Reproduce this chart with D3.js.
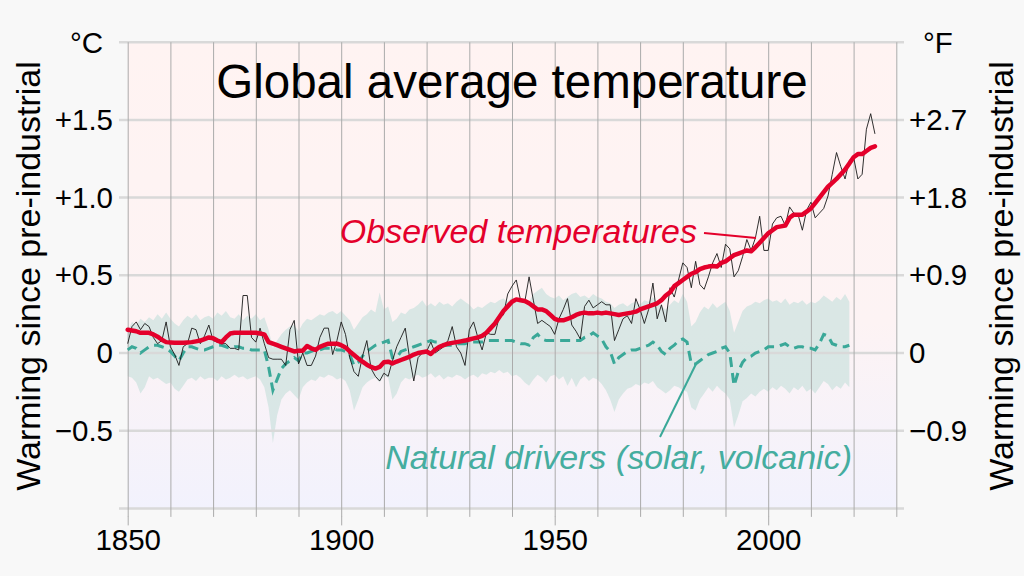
<!DOCTYPE html>
<html>
<head>
<meta charset="utf-8">
<script src="https://cdn.jsdelivr.net/npm/d3@7"></script>
<style>
  body { margin: 0; background: #f8f8f8; }
  svg { display: block; font-family: "Liberation Sans", Arial, sans-serif; }
</style>
</head>
<body>
<div id="chart"></div>
<script>
// annual observed warming (°C vs 1850-1900), 1850..2025
const observed = [
  0.06, 0.17, 0.20, 0.15, 0.19, 0.17, 0.10, 0.06, 0.08, 0.20,
  0.04, -0.01, -0.08, 0.04, 0.06, 0.16, 0.15, 0.06, 0.11, 0.18,
  0.08, 0.07, 0.06, 0.06, 0.03, 0.03, 0.02, 0.37, 0.37, 0.10,
  0.07, 0.16, 0.06, -0.03, -0.04, -0.04, -0.04, -0.08, 0.15, 0.21,
  -0.07, 0.00, -0.08, -0.08, -0.02, 0.10, 0.16, 0.16, -0.01, 0.08,
  0.20, 0.12, -0.03, -0.12, -0.15, -0.02, 0.08, -0.10, -0.15, -0.18,
  -0.13, -0.15, -0.05, 0.04, 0.10, 0.16, -0.03, -0.18, -0.03, 0.00,
  0.01, 0.07, 0.00, 0.02, 0.04, 0.08, 0.17, 0.04, 0.00, -0.08,
  0.15, 0.20, 0.10, 0.02, 0.13, 0.12, 0.12, 0.23, 0.245, 0.38,
  0.43, 0.47, 0.34, 0.33, 0.49, 0.34, 0.19, 0.21, 0.19, 0.17,
  0.12, 0.22, 0.28, 0.35, 0.18, 0.14, 0.09, 0.30, 0.34, 0.29,
  0.31, 0.33, 0.31, 0.31, 0.08, 0.15, 0.22, 0.24, 0.19, 0.35,
  0.28, 0.19, 0.28, 0.45, 0.22, 0.31, 0.20, 0.42, 0.36, 0.47,
  0.58, 0.55, 0.42, 0.59, 0.44, 0.41, 0.49, 0.58, 0.64, 0.55,
  0.70, 0.67, 0.49, 0.53, 0.62, 0.73, 0.66, 0.74, 0.88, 0.66,
  0.66, 0.83, 0.87, 0.88, 0.82, 0.94, 0.90, 0.89, 0.79, 0.92,
  0.97, 0.87, 0.90, 0.93, 1.01, 1.15, 1.29, 1.20, 1.12, 1.24,
  1.26, 1.12, 1.15, 1.44, 1.54, 1.41
];

// smoothed observed trend, 1850..2025
const smoothed = [
  0.15, 0.145, 0.14, 0.13, 0.13, 0.13, 0.12, 0.105, 0.085, 0.07,
  0.068, 0.066, 0.066, 0.066, 0.068, 0.07, 0.075, 0.08, 0.09, 0.10,
  0.095, 0.08, 0.07, 0.10, 0.125, 0.13, 0.13, 0.13, 0.13, 0.13,
  0.13, 0.125, 0.12, 0.07, 0.06, 0.05, 0.04, 0.03, 0.02, 0.01,
  0.015, 0.015, 0.045, 0.03, 0.02, 0.04, 0.05, 0.06, 0.06, 0.06,
  0.05, 0.036, 0.01, -0.013, -0.035, -0.056, -0.075, -0.09, -0.10, -0.09,
  -0.06, -0.056, -0.067, -0.055, -0.045, -0.035, -0.024, -0.01, 0.0, 0.005,
  0.01, -0.006, 0.02, 0.04, 0.05, 0.06, 0.065, 0.07, 0.075, 0.08,
  0.087, 0.094, 0.10, 0.11, 0.13, 0.16, 0.19, 0.23, 0.27, 0.30,
  0.33, 0.345, 0.34, 0.335, 0.32, 0.30, 0.28, 0.28, 0.27, 0.245,
  0.22, 0.21, 0.21, 0.22, 0.23, 0.245, 0.255, 0.26, 0.255, 0.255,
  0.26, 0.255, 0.26, 0.255, 0.25, 0.245, 0.25, 0.255, 0.26, 0.266,
  0.28, 0.29, 0.30, 0.31, 0.32, 0.34, 0.37, 0.39, 0.43, 0.45,
  0.47, 0.49, 0.51, 0.52, 0.54, 0.55, 0.556, 0.56, 0.556, 0.58,
  0.59, 0.61, 0.63, 0.64, 0.65, 0.66, 0.655, 0.68, 0.71, 0.74,
  0.77, 0.79, 0.81, 0.815, 0.82, 0.87, 0.89, 0.89, 0.89, 0.91,
  0.93, 0.965, 1.00, 1.035, 1.07, 1.095, 1.12, 1.15, 1.18, 1.22,
  1.26, 1.28, 1.28, 1.30, 1.32, 1.33
];

// simulated natural-only response, 1850..2019
const natural = [
  0.02, 0.04, 0.03, 0.00, 0.02, 0.04, 0.05, 0.05, 0.04, 0.03,
  0.01, -0.02, -0.05, 0.00, 0.04, 0.04, 0.03, 0.02, 0.02, 0.03,
  0.04, 0.05, 0.05, 0.04, 0.03, 0.04, 0.04, 0.03, 0.03, 0.02,
  0.02, 0.02, 0.02, -0.09, -0.24, -0.17, -0.10, -0.07, -0.05, -0.03,
  -0.05, 0.00, 0.00, 0.01, 0.02, 0.02, 0.03, 0.03, 0.03, 0.02,
  0.02, 0.01, -0.01, -0.08, -0.06, -0.02, 0.01, 0.03, 0.05, 0.06,
  0.07, 0.08, -0.03, -0.03, 0.01, 0.02, 0.03, 0.04, 0.05, 0.06,
  0.07, 0.08, 0.07, 0.07, 0.05, 0.05, 0.05, 0.06, 0.06, 0.06,
  0.07, 0.07, 0.07, 0.07, 0.08, 0.08, 0.08, 0.08, 0.08, 0.08,
  0.08, 0.07, 0.06, 0.06, 0.05, 0.10, 0.12, 0.09, 0.08, 0.08,
  0.08, 0.08, 0.08, 0.08, 0.08, 0.08, 0.08, 0.10, 0.11, 0.13,
  0.11, 0.09, 0.04, 0.01, -0.07, -0.03, -0.01, 0.01, 0.02, 0.02,
  0.03, 0.04, 0.05, 0.07, 0.05, 0.01, -0.01, 0.03, 0.05, 0.08,
  0.09, 0.07, -0.07, -0.07, -0.05, -0.03, -0.01, 0.00, 0.01, 0.03,
  0.04, 0.00, -0.21, -0.12, -0.06, -0.03, -0.02, 0.00, 0.01, 0.02,
  0.04, 0.04, 0.04, 0.05, 0.06, 0.04, 0.03, 0.04, 0.04, 0.03,
  0.03, 0.02, 0.06, 0.12, 0.11, 0.06, 0.05, 0.04, 0.04, 0.05
];

// natural-only range, upper and lower edge, 1850..2019
const naturalHigh = [
  0.14, 0.20, 0.18, 0.22, 0.20, 0.23, 0.21, 0.25, 0.22, 0.26,
  0.22, 0.19, 0.17, 0.21, 0.24, 0.22, 0.25, 0.21, 0.23, 0.24,
  0.22, 0.26, 0.24, 0.27, 0.23, 0.22, 0.25, 0.21, 0.24, 0.22,
  0.25, 0.21, 0.23, 0.15, 0.03, 0.08, 0.12, 0.15, 0.17, 0.18,
  0.14, 0.19, 0.22, 0.21, 0.23, 0.25, 0.24, 0.26, 0.27, 0.25,
  0.27, 0.24, 0.21, 0.15, 0.19, 0.23, 0.25, 0.28, 0.26, 0.39,
  0.28, 0.30, 0.20, 0.22, 0.26, 0.25, 0.28, 0.29, 0.31, 0.34,
  0.30, 0.32, 0.30, 0.33, 0.31, 0.32, 0.30, 0.33, 0.35, 0.33,
  0.31, 0.28, 0.30, 0.29, 0.31, 0.33, 0.32, 0.34, 0.35, 0.33,
  0.36, 0.34, 0.33, 0.35, 0.33, 0.38, 0.40, 0.42, 0.38, 0.36,
  0.35, 0.37, 0.34, 0.36, 0.38, 0.39, 0.36, 0.37, 0.35, 0.38,
  0.36, 0.35, 0.33, 0.32, 0.29, 0.31, 0.32, 0.30, 0.32, 0.33,
  0.31, 0.34, 0.33, 0.36, 0.32, 0.30, 0.28, 0.31, 0.34, 0.32,
  0.38, 0.33, 0.17, 0.20, 0.26, 0.30, 0.28, 0.32, 0.29, 0.31,
  0.33, 0.27, 0.13, 0.20, 0.27, 0.30, 0.31, 0.33, 0.32, 0.34,
  0.35, 0.33, 0.34, 0.32, 0.35, 0.31, 0.33, 0.32, 0.34, 0.31,
  0.33, 0.32, 0.34, 0.37, 0.35, 0.33, 0.36, 0.34, 0.38, 0.33
];
const naturalLow = [
  -0.15, -0.16, -0.19, -0.26, -0.22, -0.15, -0.17, -0.16, -0.18, -0.20,
  -0.19, -0.23, -0.25, -0.21, -0.17, -0.16, -0.18, -0.15, -0.17, -0.16,
  -0.16, -0.18, -0.15, -0.17, -0.16, -0.14, -0.16, -0.15, -0.17, -0.16,
  -0.15, -0.17, -0.22, -0.35, -0.58, -0.40, -0.30, -0.26, -0.24, -0.27,
  -0.30, -0.22, -0.19, -0.17, -0.18, -0.15, -0.16, -0.14, -0.15, -0.17,
  -0.16, -0.18, -0.24, -0.37, -0.30, -0.22, -0.19, -0.17, -0.16, -0.19,
  -0.15, -0.16, -0.30, -0.26, -0.19, -0.16, -0.17, -0.15, -0.14, -0.16,
  -0.15, -0.13, -0.16, -0.14, -0.17, -0.15, -0.16, -0.14, -0.15, -0.17,
  -0.15, -0.14, -0.16, -0.13, -0.14, -0.12, -0.13, -0.11, -0.13, -0.12,
  -0.15, -0.14, -0.16, -0.19, -0.21, -0.17, -0.14, -0.16, -0.19, -0.15,
  -0.14, -0.17, -0.15, -0.21, -0.16, -0.22, -0.17, -0.15, -0.18, -0.16,
  -0.17, -0.20, -0.24, -0.30, -0.38, -0.30, -0.26, -0.23, -0.22, -0.20,
  -0.21, -0.19, -0.20, -0.18, -0.22, -0.24, -0.26, -0.24, -0.21, -0.22,
  -0.24, -0.25, -0.35, -0.37, -0.30, -0.26, -0.22, -0.25, -0.21, -0.24,
  -0.26, -0.30, -0.48, -0.40, -0.31, -0.29, -0.26, -0.28, -0.25, -0.23,
  -0.25, -0.22, -0.24, -0.21, -0.23, -0.26, -0.22, -0.24, -0.21, -0.25,
  -0.23, -0.26, -0.22, -0.18, -0.20, -0.24, -0.21, -0.23, -0.19, -0.22
];

const obsYears = d3.range(1850, 1850 + observed.length);
const natYears = d3.range(1850, 1850 + natural.length);

const yearTicks = [1850, 1900, 1950, 2000];
const decadeTicks = d3.range(1850, 2031, 10);
const celsiusTicks = [-0.5, 0, 0.5, 1.0, 1.5];
const celsiusLabels = ["\u22120.5", "0", "+0.5", "+1.0", "+1.5"];
const fahrenheitLabels = ["\u22120.9", "0", "+0.9", "+1.8", "+2.7"];
const gridValues = [-1, -0.5, 0, 0.5, 1.0, 1.5, 2.0];

let w = 1024;
let h = 576;
let red = "#e4002b";
let teal = "#3aa898";
let font = '"Liberation Sans", Arial, sans-serif';
let tickFont = "29.5px";
let labelFont = "34px";

let x = d3.scaleLinear().domain([1850, 2030]).range([127.7, 896.3]);
let y = d3.scaleLinear().domain([-1, 2]).range([508.4, 42.2]);

let svg = d3
  .select("#chart")
  .append("svg")
  .attr("width", w)
  .attr("height", h);

svg.append("rect").attr("width", w).attr("height", h).attr("fill", "#f8f8f8");

let grad = svg
  .append("defs")
  .append("linearGradient")
  .attr("id", "bg")
  .attr("x1", 0)
  .attr("y1", 0)
  .attr("x2", 0)
  .attr("y2", 1);
grad.append("stop").attr("offset", "0%").attr("stop-color", "#fff3f2");
grad.append("stop").attr("offset", "60%").attr("stop-color", "#fdf3f4");
grad.append("stop").attr("offset", "100%").attr("stop-color", "#f2f2fd");

svg
  .append("rect")
  .attr("x", x(1850))
  .attr("y", y(2))
  .attr("width", x(2030) - x(1850))
  .attr("height", y(-1) - y(2))
  .attr("fill", "url(#bg)");

// natural drivers range
svg
  .append("path")
  .datum(natYears)
  .attr("fill", "#cfe3e0")
  .attr("fill-opacity", 0.78)
  .attr(
    "d",
    d3
      .area()
      .x(function (d) {
        return x(d);
      })
      .y0(function (d, i) {
        return y(naturalLow[i]);
      })
      .y1(function (d, i) {
        return y(naturalHigh[i]);
      })
  );

// horizontal grid
svg
  .append("g")
  .selectAll("line")
  .data(gridValues)
  .enter()
  .append("line")
  .attr("x1", 119)
  .attr("x2", 904)
  .attr("y1", function (d) {
    return y(d);
  })
  .attr("y2", function (d) {
    return y(d);
  })
  .attr("stroke", "#d9d9d9")
  .attr("stroke-width", 2.5);

// decade grid lines + ticks
let xAxisMinor = svg
  .append("g")
  .attr("transform", `translate(0,${y(-1) + 8.5})`)
  .call(
    d3
      .axisBottom(x)
      .tickValues(decadeTicks)
      .tickSize(-(y(-1) + 8.5 - y(2)))
      .tickFormat("")
  );
xAxisMinor.select(".domain").remove();
xAxisMinor
  .selectAll(".tick line")
  .attr("stroke", "#ababab")
  .attr("stroke-width", 1);

let xAxis = svg
  .append("g")
  .attr("transform", `translate(0,${y(-1) + 17})`)
  .call(d3.axisBottom(x).tickValues(yearTicks).tickSize(9).tickFormat(d3.format("d")));
xAxis.select(".domain").remove();
xAxis.selectAll(".tick line").attr("stroke", "#ababab").attr("y1", -9).attr("y2", 0);
xAxis
  .selectAll(".tick text")
  .attr("y", 25)
  .attr("dy", 0)
  .attr("fill", "#000")
  .style("font-size", tickFont)
  .style("font-family", font);

// left (°C) and right (°F) tick labels
svg
  .append("g")
  .selectAll("text")
  .data(celsiusTicks)
  .enter()
  .append("text")
  .attr("x", 113)
  .attr("y", function (d) {
    return y(d) + 10;
  })
  .attr("text-anchor", "end")
  .style("font-size", tickFont)
  .text(function (d, i) {
    return celsiusLabels[i];
  });

svg
  .append("g")
  .selectAll("text")
  .data(celsiusTicks)
  .enter()
  .append("text")
  .attr("x", 909)
  .attr("y", function (d) {
    return y(d) + 10;
  })
  .style("font-size", tickFont)
  .text(function (d, i) {
    return fahrenheitLabels[i];
  });

svg
  .append("text")
  .attr("x", 103)
  .attr("y", 53)
  .attr("text-anchor", "end")
  .style("font-size", tickFont)
  .text("\u00b0C");

svg
  .append("text")
  .attr("x", 923)
  .attr("y", 53)
  .style("font-size", tickFont)
  .text("\u00b0F");

svg
  .append("text")
  .attr("transform", "translate(40,276) rotate(-90)")
  .attr("text-anchor", "middle")
  .style("font-size", labelFont)
  .text("Warming since pre-industrial");

svg
  .append("text")
  .attr("transform", "translate(1013,276) rotate(-90)")
  .attr("text-anchor", "middle")
  .style("font-size", labelFont)
  .text("Warming since pre-industrial");

svg
  .append("text")
  .attr("x", 512)
  .attr("y", 98)
  .attr("text-anchor", "middle")
  .style("font-size", "47.5px")
  .text("Global average temperature");

// natural drivers line
svg
  .append("path")
  .datum(natYears)
  .attr("fill", "none")
  .attr("stroke", teal)
  .attr("stroke-width", 3)
  .attr("stroke-dasharray", "10,6")
  .attr(
    "d",
    d3
      .line()
      .x(function (d) {
        return x(d);
      })
      .y(function (d, i) {
        return y(natural[i]);
      })
  );

// annual observed
svg
  .append("path")
  .datum(obsYears)
  .attr("fill", "none")
  .attr("stroke", "#1a1a1a")
  .attr("stroke-width", 0.9)
  .attr(
    "d",
    d3
      .line()
      .x(function (d) {
        return x(d);
      })
      .y(function (d, i) {
        return y(observed[i]);
      })
  );

// smoothed observed
svg
  .append("path")
  .datum(obsYears)
  .attr("fill", "none")
  .attr("stroke", red)
  .attr("stroke-width", 4.5)
  .attr("stroke-linejoin", "round")
  .attr("stroke-linecap", "round")
  .attr(
    "d",
    d3
      .line()
      .x(function (d) {
        return x(d);
      })
      .y(function (d, i) {
        return y(smoothed[i]);
      })
  );

// labels with leader lines
svg
  .append("text")
  .attr("x", 697)
  .attr("y", 243)
  .attr("text-anchor", "end")
  .attr("fill", red)
  .style("font-size", labelFont)
  .style("font-style", "italic")
  .text("Observed temperatures");

svg
  .append("line")
  .attr("x1", 704)
  .attr("y1", 233)
  .attr("x2", 756)
  .attr("y2", 238)
  .attr("stroke", red)
  .attr("stroke-width", 2);

svg
  .append("text")
  .attr("x", 852)
  .attr("y", 469)
  .attr("text-anchor", "end")
  .attr("fill", "#45ad9f")
  .style("font-size", labelFont)
  .style("font-style", "italic")
  .text("Natural drivers (solar, volcanic)");

svg
  .append("line")
  .attr("x1", 660)
  .attr("y1", 437)
  .attr("x2", 696)
  .attr("y2", 364)
  .attr("stroke", teal)
  .attr("stroke-width", 2);
</script>
</body>
</html>
